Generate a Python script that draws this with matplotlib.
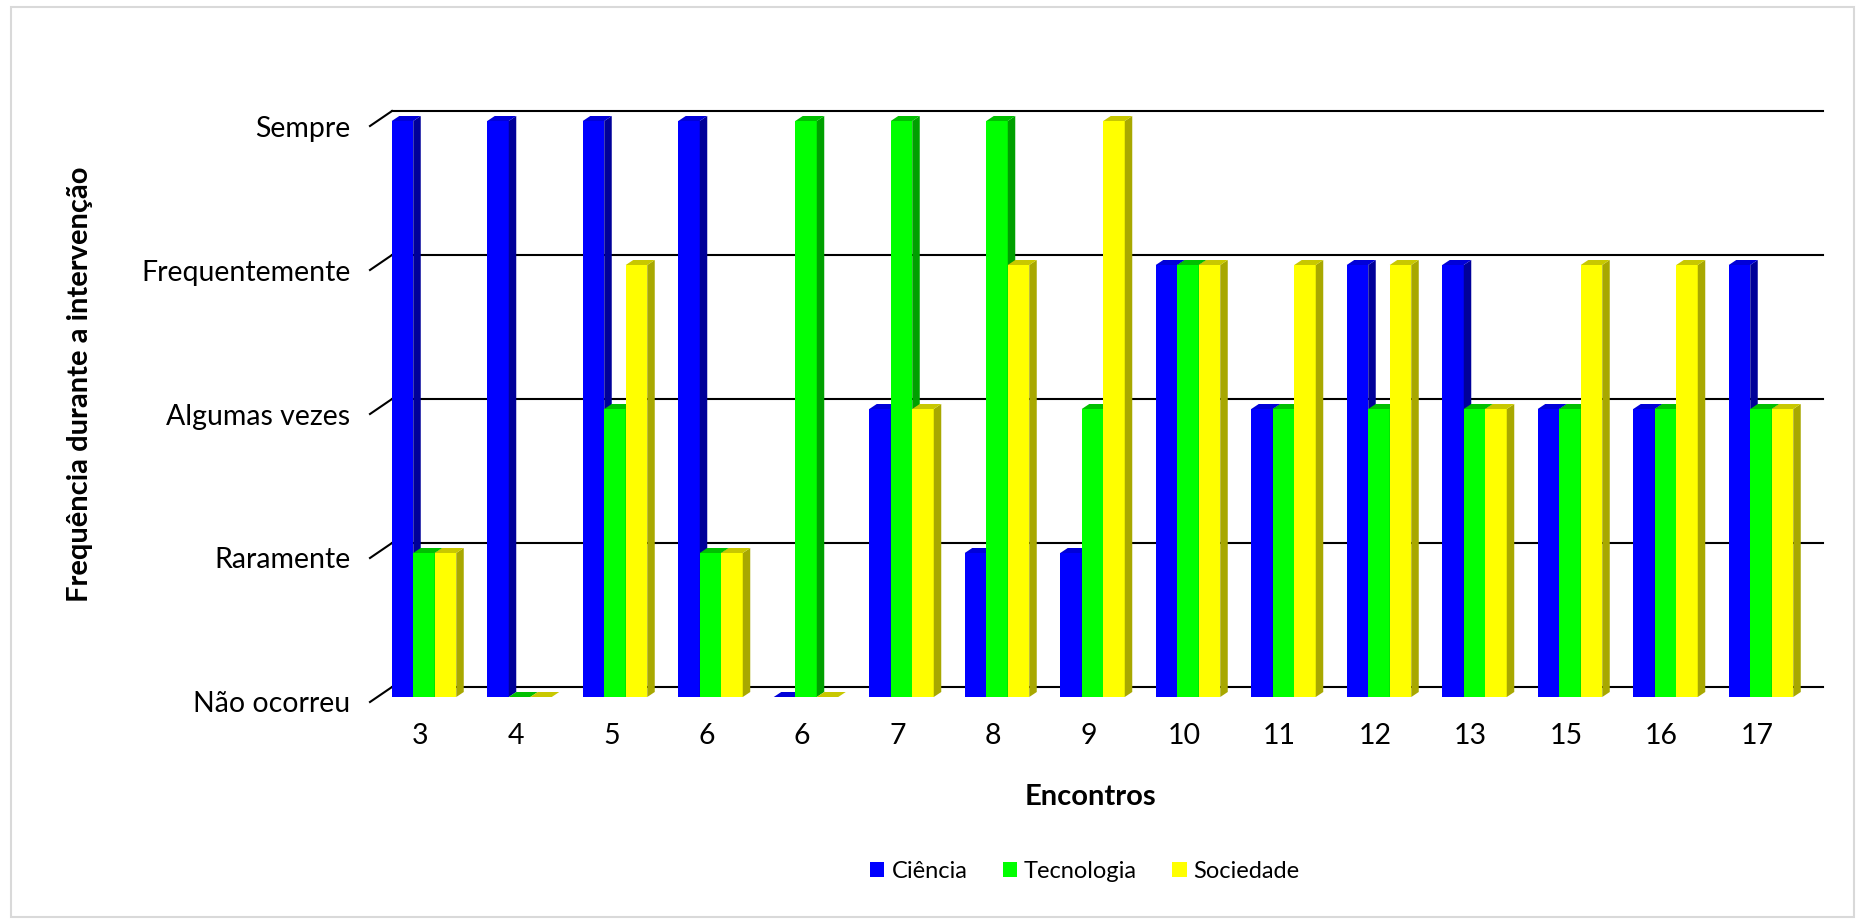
import matplotlib
matplotlib.use("Agg")
import matplotlib.pyplot as plt
from matplotlib.patches import Polygon, Patch, Rectangle

plt.rcParams['font.family'] = ['Lato', 'DejaVu Sans']

# encontros e nível de frequência (0 = Não ocorreu ... 4 = Sempre)
encontros = ['3', '4', '5', '6', '6', '7', '8', '9', '10', '11', '12', '13', '15', '16', '17']
niveis = ['Não ocorreu', 'Raramente', 'Algumas vezes', 'Frequentemente', 'Sempre']
ciencia = [4, 4, 4, 4, 0, 2, 1, 1, 3, 2, 3, 3, 2, 2, 3]
tecnologia = [1, 0, 2, 1, 4, 4, 4, 2, 3, 2, 2, 2, 2, 2, 2]
sociedade = [1, 0, 3, 1, 0, 2, 3, 4, 3, 3, 3, 2, 3, 3, 2]

series = [('Ciência', ciencia, '#0000FF', '#0000D8', '#000099'),
          ('Tecnologia', tecnologia, '#00FF00', '#00C000', '#00A000'),
          ('Sociedade', sociedade, '#FFFF00', '#C8C800', '#A8A800')]

W, H = 1858, 924
fig = plt.figure(figsize=(W / 100, H / 100), dpi=100)
fig.patch.set_facecolor('white')

# moldura cinza clara da área do gráfico
fig.add_artist(Rectangle((11 / W, 7 / H), (1854 - 11) / W, (917 - 7) / H,
                         transform=fig.transFigure, fill=False,
                         edgecolor='#D9D9D9', lw=1.5))

# eixo em pixels: grupo i centrado em 424 + 95.5*i, nível k em 702 - 144*k
px_x, px_y = 95.5, 144.0
x0, x1 = 370, 1801
ax = fig.add_axes([x0 / W, (H - 702) / H, (x1 - x0) / W, 576 / H])
xmin = (x0 - 424) / px_x
xmax = (x1 - 424) / px_x
ax.set_xlim(xmin, xmax)
ax.set_ylim(0, 4)
for s in ax.spines.values():
    s.set_visible(False)

# parede do fundo: linhas de grade com a diagonal frontal
back_dx, back_dy = 22 / px_x, 15 / px_y
for k in range(len(niveis)):
    ax.plot([xmin + back_dx, xmax + back_dx], [k + back_dy] * 2,
            color='black', lw=1.5, clip_on=False, zorder=1)
    ax.plot([xmin, xmin + back_dx], [k, k + back_dy],
            color='black', lw=1.5, clip_on=False, zorder=1)

# barras 3D: face frontal, lateral e topo
w = 21.5 / px_x
dx, dy = 7.5 / px_x, 5 / px_y
base = 5 / px_y
for i in range(len(encontros)):
    for j, (nome, vals, cor, topo, lado) in enumerate(series):
        v = vals[i]
        x = i + (j - 1.5) * w
        z = 2 + i * 3 + j
        top = v + base
        if v > 0:
            ax.add_patch(Rectangle((x, base), w, v, facecolor=cor,
                                   edgecolor='none', zorder=z, clip_on=False))
            ax.add_patch(Polygon([(x + w, base), (x + w + dx, base + dy),
                                  (x + w + dx, top + dy), (x + w, top)],
                                 closed=True, facecolor=lado, edgecolor='none',
                                 zorder=z, clip_on=False))
        ax.add_patch(Polygon([(x, top), (x + w, top), (x + w + dx, top + dy),
                              (x + dx, top + dy)],
                             closed=True, facecolor=topo, edgecolor='none',
                             zorder=z, clip_on=False))

ax.set_yticks(range(len(niveis)))
ax.set_yticklabels(niveis)
ax.set_xticks([i - 0.04 for i in range(len(encontros))])
ax.set_xticklabels(encontros)
ax.tick_params(axis='both', length=0, labelsize=20.5)
ax.tick_params(axis='y', pad=14)
ax.tick_params(axis='x', pad=15)

fig.text(1090 / W, 1 - 797 / H, 'Encontros', ha='center', va='center',
         fontsize=21, fontweight='bold')
fig.text(80 / W, 1 - 384 / H, 'Frequência durante a intervenção', ha='center',
         va='center', rotation=90, fontsize=21, fontweight='bold')

handles = [Patch(facecolor=c, edgecolor='none', label=n) for n, _, c, _, _ in series]
fig.legend(handles=handles, loc='center', bbox_to_anchor=(1085 / W, 1 - 871 / H),
           ncol=3, frameon=False, fontsize=17, handlelength=0.6, handleheight=0.6,
           handletextpad=0.3, columnspacing=1.5)

fig.savefig('out.png', dpi=100, facecolor='white')
